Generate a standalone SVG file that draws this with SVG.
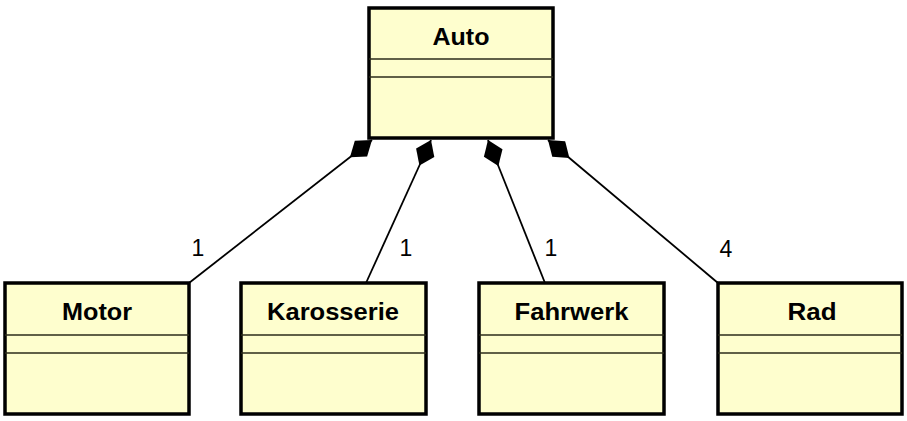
<svg xmlns="http://www.w3.org/2000/svg" width="907" height="421" viewBox="0 0 907 421">
  <style>
    .box { fill: #FEFECE; stroke: #000; stroke-width: 3.5; }
    .sep { stroke: #2b2b1a; stroke-width: 1.5; }
    .name { font-family: "Liberation Sans", Arial, sans-serif; font-weight: bold; font-size: 23px; fill: #000; text-anchor: middle; }
    .edge { stroke: #000; stroke-width: 1.8; fill: none; marker-end: url(#diamond); }
    .mult { font-family: "Liberation Sans", Arial, sans-serif; font-size: 23px; fill: #000; text-anchor: middle; }
  </style>
  <defs>
    <marker id="diamond" markerUnits="userSpaceOnUse" viewBox="-31 -11 32 22" markerWidth="32" markerHeight="22" refX="0" refY="0" orient="auto">
      <path d="M0,0 L-14,-10 L-28,0 L-14,10 Z" fill="#000" stroke="none"/>
    </marker>
  </defs>
  <rect width="907" height="421" fill="#FFFFFF"/>

  <g id="connectors">
    <line class="edge" x1="189" y1="283" x2="372" y2="140"/>
    <line class="edge" x1="366" y1="283" x2="431" y2="140"/>
    <line class="edge" x1="545" y1="283" x2="488" y2="140"/>
    <line class="edge" x1="718" y1="283" x2="548" y2="140"/>
    <text class="mult" x="198" y="256">1</text>
    <text class="mult" x="406" y="256">1</text>
    <text class="mult" x="551" y="256">1</text>
    <text class="mult" x="726" y="257">4</text>
  </g>

  <g id="Auto">
    <rect class="box" x="369" y="8" width="184" height="130"/>
    <line class="sep" x1="369" y1="59" x2="553" y2="59"/>
    <line class="sep" x1="369" y1="77" x2="553" y2="77"/>
    <text class="name" x="461" y="45" textLength="57" lengthAdjust="spacingAndGlyphs">Auto</text>
  </g>

  <g id="Motor">
    <rect class="box" x="5" y="283" width="184" height="131"/>
    <line class="sep" x1="5" y1="335" x2="189" y2="335"/>
    <line class="sep" x1="5" y1="353" x2="189" y2="353"/>
    <text class="name" x="97" y="320" textLength="70" lengthAdjust="spacingAndGlyphs">Motor</text>
  </g>

  <g id="Karosserie">
    <rect class="box" x="241" y="283" width="185" height="131"/>
    <line class="sep" x1="241" y1="335" x2="426" y2="335"/>
    <line class="sep" x1="241" y1="353" x2="426" y2="353"/>
    <text class="name" x="333" y="320" textLength="132" lengthAdjust="spacingAndGlyphs">Karosserie</text>
  </g>

  <g id="Fahrwerk">
    <rect class="box" x="479" y="283" width="185" height="131"/>
    <line class="sep" x1="479" y1="335" x2="664" y2="335"/>
    <line class="sep" x1="479" y1="353" x2="664" y2="353"/>
    <text class="name" x="571.5" y="320" textLength="114" lengthAdjust="spacingAndGlyphs">Fahrwerk</text>
  </g>

  <g id="Rad">
    <rect class="box" x="718" y="283" width="184" height="131"/>
    <line class="sep" x1="718" y1="335" x2="902" y2="335"/>
    <line class="sep" x1="718" y1="353" x2="902" y2="353"/>
    <text class="name" x="812" y="320" textLength="49" lengthAdjust="spacingAndGlyphs">Rad</text>
  </g>
</svg>
